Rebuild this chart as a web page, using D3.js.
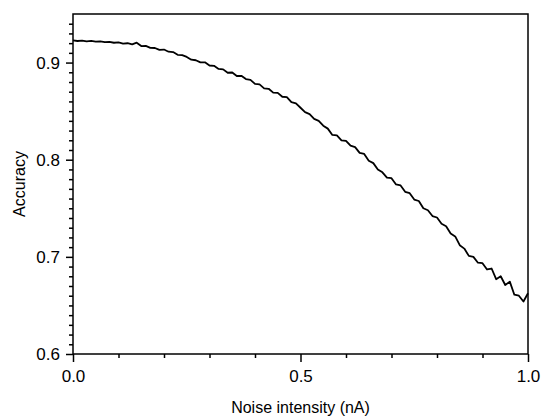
<!DOCTYPE html>
<html>
<head>
<meta charset="utf-8">
<script src="https://cdn.jsdelivr.net/npm/d3@7/dist/d3.min.js"></script>
<style>
html,body{margin:0;padding:0;background:#fff;}
svg{display:block;}
text{font-family:"Liberation Sans",Arial,sans-serif;fill:#000;}
</style>
</head>
<body>
<svg id="chart" width="545" height="419"></svg>
<script>
const noiseIntensity = [0.00,0.01,0.02,0.03,0.04,0.05,0.06,0.07,0.08,0.09,
0.10,0.11,0.12,0.13,0.14,0.15,0.16,0.17,0.18,0.19,
0.20,0.21,0.22,0.23,0.24,0.25,0.26,0.27,0.28,0.29,
0.30,0.31,0.32,0.33,0.34,0.35,0.36,0.37,0.38,0.39,
0.40,0.41,0.42,0.43,0.44,0.45,0.46,0.47,0.48,0.49,
0.50,0.51,0.52,0.53,0.54,0.55,0.56,0.57,0.58,0.59,
0.60,0.61,0.62,0.63,0.64,0.65,0.66,0.67,0.68,0.69,
0.70,0.71,0.72,0.73,0.74,0.75,0.76,0.77,0.78,0.79,
0.80,0.81,0.82,0.83,0.84,0.85,0.86,0.87,0.88,0.89,
0.90,0.91,0.92,0.93,0.94,0.95,0.96,0.97,0.98,0.99,1.00];
const accuracy = [0.9228,0.9222,0.9226,0.9219,0.9223,0.9215,0.9219,0.9210,0.9214,0.9204,
0.9207,0.9196,0.9199,0.9188,0.9205,0.9170,0.9172,0.9152,0.9150,0.9130,
0.9134,0.9112,0.9108,0.9080,0.9077,0.9058,0.9030,0.9024,0.9002,0.9003,
0.8970,0.8966,0.8935,0.8930,0.8895,0.8898,0.8862,0.8864,0.8830,0.8822,
0.8780,0.8775,0.8735,0.8730,0.8690,0.8688,0.8648,0.8645,0.8592,0.8580,
0.8535,0.8490,0.8470,0.8420,0.8400,0.8350,0.8320,0.8255,0.8250,0.8200,
0.8195,0.8145,0.8130,0.8070,0.8060,0.7990,0.7965,0.7900,0.7870,0.7815,
0.7810,0.7745,0.7735,0.7670,0.7655,0.7590,0.7575,0.7500,0.7480,0.7420,
0.7405,0.7340,0.7315,0.7240,0.7210,0.7120,0.7085,0.7010,0.7000,0.6940,
0.6935,0.6870,0.6880,0.6770,0.6800,0.6710,0.6745,0.6610,0.6600,0.6540,0.6625];
const xMajorTicks = [0.0, 0.5, 1.0];
const xMinorTicks = [0.1,0.2,0.3,0.4,0.6,0.7,0.8,0.9];
const yMajorTicks = [0.6, 0.7, 0.8, 0.9];
const yMinorTicks = [0.61,0.62,0.63,0.64,0.65,0.66,0.67,0.68,0.69,
0.71,0.72,0.73,0.74,0.75,0.76,0.77,0.78,0.79,
0.81,0.82,0.83,0.84,0.85,0.86,0.87,0.88,0.89,
0.91,0.92,0.93,0.94];

const margin = {left:73, right:17, top:14, bottom:65};
const W = 545, H = 419;
const svg = d3.select("#chart");
const x = d3.scaleLinear().domain([0,1]).range([margin.left, W - margin.right]);
const y = d3.scaleLinear().domain([0.6,0.95]).range([H - margin.bottom, margin.top]);

const data = noiseIntensity.map((v,i)=>({x:v, y:accuracy[i]}));

svg.append("path")
  .datum(data)
  .attr("fill","none")
  .attr("stroke","#000")
  .attr("stroke-width",1.8)
  .attr("stroke-linejoin","round")
  .attr("d", d3.line().x(d=>x(d.x)).y(d=>y(d.y)));

// frame
svg.append("rect")
  .attr("x", x(0)).attr("y", y(0.95))
  .attr("width", x(1)-x(0)).attr("height", y(0.6)-y(0.95))
  .attr("fill","none").attr("stroke","#000").attr("stroke-width",1.5);

function styleAxis(g){
  g.select(".domain").remove();
  g.selectAll("line").attr("stroke","#000").attr("stroke-width",1.5);
  g.selectAll("text").style("font-family","'Liberation Sans',Arial,sans-serif").style("font-size","17px").attr("fill","#000");
}

const gx = svg.append("g").attr("transform",`translate(0,${y(0.6)})`)
  .call(d3.axisBottom(x).tickValues(xMajorTicks).tickFormat(d3.format(".1f")).tickSize(8).tickPadding(8));
styleAxis(gx);
const gxm = svg.append("g").attr("transform",`translate(0,${y(0.6)})`)
  .call(d3.axisBottom(x).tickValues(xMinorTicks).tickFormat("").tickSize(4));
styleAxis(gxm);

const gy = svg.append("g").attr("transform",`translate(${x(0)},0)`)
  .call(d3.axisLeft(y).tickValues(yMajorTicks).tickFormat(d3.format(".1f")).tickSize(7).tickPadding(6));
styleAxis(gy);
const gym = svg.append("g").attr("transform",`translate(${x(0)},0)`)
  .call(d3.axisLeft(y).tickValues(yMinorTicks).tickFormat("").tickSize(4));
styleAxis(gym);

svg.append("text")
  .attr("x", (x(0)+x(1))/2).attr("y", 413)
  .attr("text-anchor","middle")
  .style("font-size","16px")
  .text("Noise intensity (nA)");

svg.append("text")
  .attr("transform", `translate(25,${(y(0.6)+y(0.95))/2}) rotate(-90)`)
  .attr("text-anchor","middle")
  .style("font-size","16px")
  .text("Accuracy");
</script>
</body>
</html>
